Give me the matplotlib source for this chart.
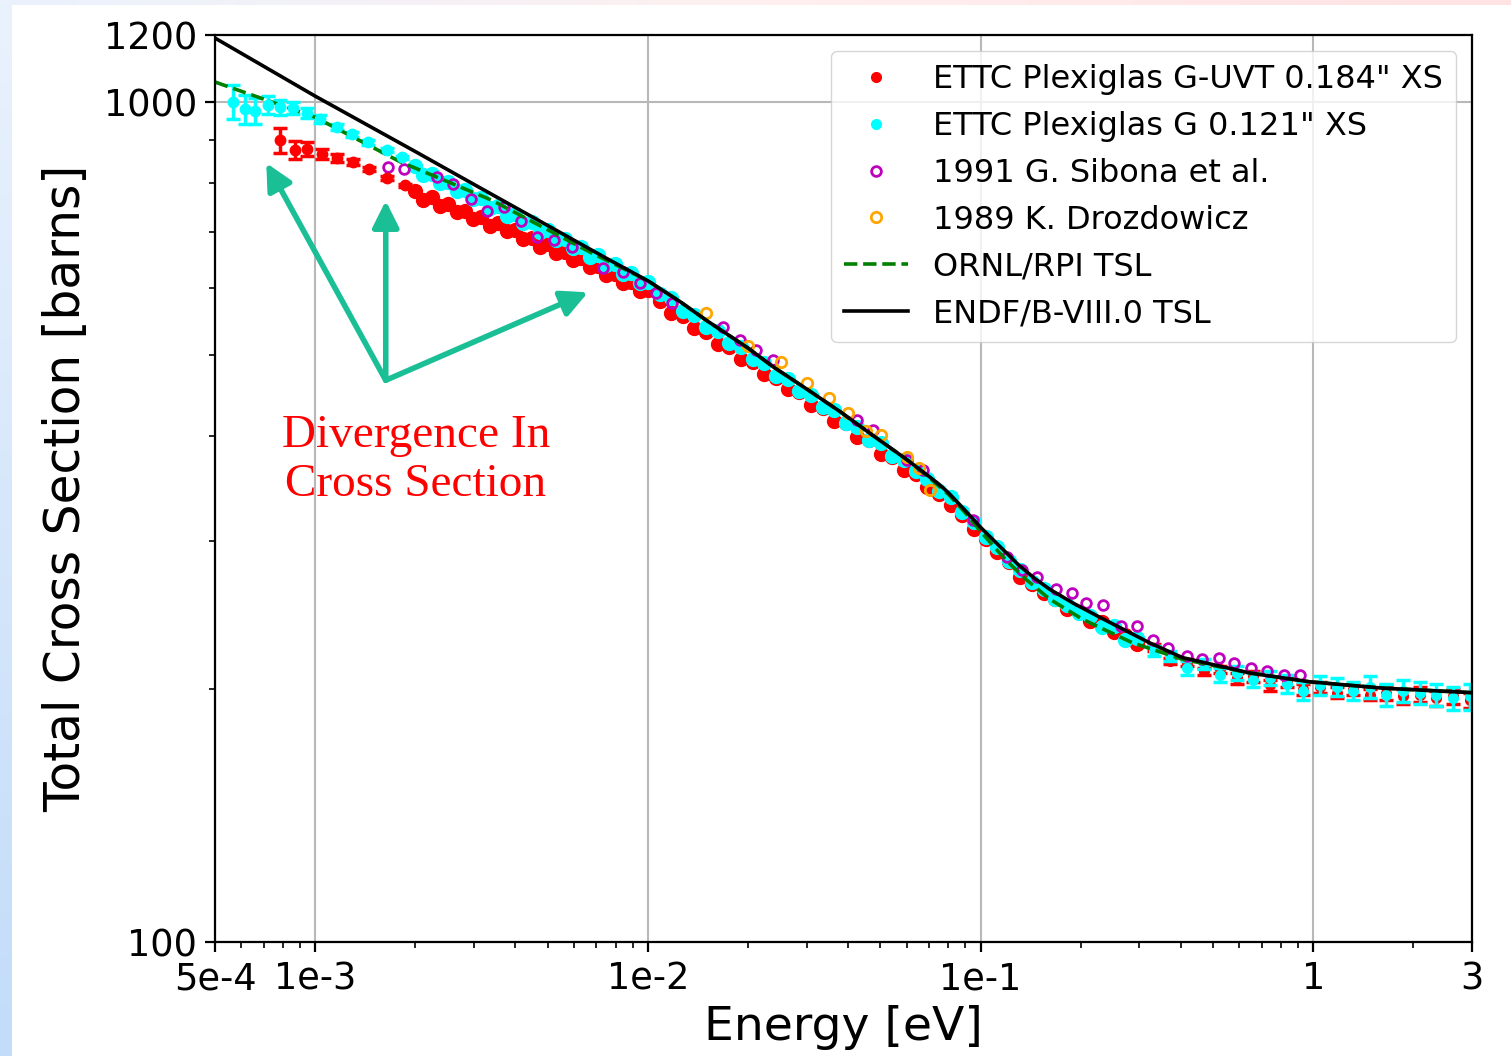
import matplotlib.pyplot as plt
import numpy as np
from matplotlib.colors import LinearSegmentedColormap
from matplotlib.ticker import NullFormatter

# Evaluated total cross sections (barns) vs energy (eV)
endf_E = [5e-4, 1e-3, 2e-3, 3e-3, 5e-3, 7.5e-3, 1e-2, 1.25e-2, 1.5e-2, 2e-2,
          2.37e-2, 3e-2, 3.77e-2, 4.73e-2, 6e-2, 7e-2, 7.5e-2, 8e-2, 8.5e-2, 9e-2,
          9.5e-2, 0.1, 0.11, 0.12, 0.13, 0.145, 0.161, 0.19, 0.228, 0.322,
          0.404, 0.643, 0.973, 1.61, 3.0]
endf_xs = [1190, 1015, 872, 797, 712, 651, 612, 578, 549, 509,
           484, 455, 428, 401, 375, 358, 350.5, 342.5, 334, 326,
           318.5, 311.5, 300, 290, 281, 271, 263, 253, 243.5, 227,
           218, 209, 204, 200.5, 198]

ornl_E = [5e-4, 1e-3, 1.8e-3, 3.4e-3, 6.7e-3, 1e-2, 1.25e-2, 1.5e-2, 2e-2, 2.37e-2,
          3e-2, 3.77e-2, 4.73e-2, 6e-2, 7e-2, 8e-2, 9e-2, 0.1, 0.11, 0.12,
          0.137, 0.161, 0.203, 0.286, 0.404, 0.643, 0.973, 1.61, 3.0]
ornl_xs = [1055, 958, 848, 763, 662, 612, 578, 549, 509, 484,
           455, 428, 401, 375, 357, 341, 324, 308, 295, 284,
           270, 256, 242, 227, 217, 209, 204, 200.5, 198]

# Older measurements
sibona_E = [1.66e-3, 1.85e-3, 2.32e-3, 2.60e-3, 2.94e-3, 3.28e-3, 3.70e-3, 4.15e-3, 4.64e-3, 5.22e-3,
            5.91e-3, 7.32e-3, 8.41e-3, 9.46e-3, 1.06e-2, 1.18e-2, 1.68e-2, 1.89e-2, 2.12e-2, 2.37e-2,
            4.24e-2, 4.74e-2, 6.00e-2, 6.70e-2, 9.46e-2, 0.120, 0.133, 0.148, 0.169, 0.188,
            0.208, 0.234, 0.265, 0.296, 0.329, 0.367, 0.416, 0.464, 0.522, 0.579,
            0.651, 0.728, 0.818, 0.914]
sibona_xs = [836, 831, 813, 797, 766, 741, 749, 721, 690, 684,
             671, 634, 627, 608, 592, 576, 539, 520, 506, 492,
             418, 407, 375, 364, 318, 287, 277, 272, 263, 260,
             253, 252, 238, 238, 229, 224, 219, 217, 218, 215,
             212, 210, 208, 208]

drozd_E = [1.50e-2, 1.995e-2, 2.51e-2, 3.00e-2, 3.50e-2, 3.99e-2, 4.52e-2, 5.01e-2, 6.00e-2, 6.51e-2, 7.03e-2]
drozd_xs = [560, 512, 490, 463, 444, 426, 406, 401, 378, 366, 345]

# ETTC transmission data: sparse low-energy points with larger uncertainty
red_low_E = [0.785e-3, 0.87e-3, 0.946e-3, 1.05e-3, 1.16e-3, 1.30e-3, 1.45e-3, 1.64e-3, 1.86e-3]
red_low_xs = [900, 876, 878, 866, 856, 847, 831, 811, 795]
red_low_err = [31, 21, 16, 12, 9, 7, 5, 4, 3]

cyan_low_E = [0.567e-3, 0.616e-3, 0.66e-3, 0.72e-3, 0.785e-3, 0.86e-3, 0.946e-3, 1.035e-3, 1.16e-3,
              1.29e-3, 1.44e-3, 1.64e-3, 1.82e-3]
cyan_low_xs = [999, 980, 975, 991, 985, 982, 969, 953, 933, 914, 894, 875, 858]
cyan_low_err = [46, 39, 35, 25, 20, 16, 13, 10, 8, 7, 6, 5, 4]

# ETTC dense energy grid shared by both samples (first 71 thermal, last 20 epithermal)
ettc_E = [0.00200, 0.00211, 0.00224, 0.00237, 0.00251, 0.00266, 0.00282, 0.00299, 0.00316, 0.00335,
          0.00355, 0.00376, 0.00398, 0.00422, 0.00447, 0.00473, 0.00501, 0.00531, 0.00562, 0.00596,
          0.00631, 0.00668, 0.00708, 0.00750, 0.00794, 0.00841, 0.00891, 0.00944, 0.0100,
          0.01084, 0.01175, 0.01274, 0.01380, 0.01496, 0.01622, 0.01758, 0.01905, 0.02065, 0.02239,
          0.02427, 0.02630, 0.02851, 0.03090, 0.03350, 0.03631, 0.03936, 0.04266, 0.04624, 0.05012,
          0.05433, 0.05888, 0.06383, 0.06918, 0.07499, 0.08128, 0.08810, 0.09550, 0.1035, 0.1122,
          0.1216, 0.1318, 0.1429, 0.1549, 0.1679, 0.1820, 0.1972, 0.2138, 0.2317, 0.2512,
          0.2723, 0.2951,
          0.331, 0.372, 0.417, 0.468, 0.525, 0.589, 0.661, 0.741, 0.832, 0.933,
          1.047, 1.175, 1.318, 1.479, 1.660, 1.862, 2.089, 2.344, 2.630, 2.951]
red_xs = [782, 764, 769, 751, 756, 739, 741, 725, 729, 712,
          716, 701, 703, 687, 689, 672, 676, 661, 663, 648,
          651, 635, 637, 622, 624, 609, 610, 595, 596,
          579, 561, 555, 537, 532, 515, 510, 494, 490, 474,
          469, 455, 451, 436, 432, 417, 414, 399, 396, 381,
          378, 364, 360, 348, 341, 331, 322, 310, 302, 291,
          283, 272, 267, 260, 256, 249, 247, 241, 240, 234,
          232, 226,
          224, 216, 215, 210, 211, 206, 207, 202, 204, 200,
          201, 198, 200, 197, 198, 196, 197, 195, 196, 194]
cyan_xs = [838, 818, 820, 799, 803, 782, 785, 765, 768, 748,
           751, 731, 735, 716, 718, 699, 703, 684, 687, 669,
           672, 654, 656, 639, 641, 624, 626, 608, 610,
           590, 583, 564, 557, 539, 533, 516, 510, 494, 488,
           472, 467, 452, 448, 433, 429, 414, 410, 396, 392,
           379, 375, 363, 356, 344, 338, 325, 316, 303, 295,
           284, 277, 268, 263, 256, 252, 246, 244, 237, 238,
           229, 230,
           222, 219, 212, 214, 208, 209, 205, 206, 203, 199,
           202, 201, 199, 201, 197, 199, 198, 197, 195, 196]
# uncertainties on the epithermal points
red_hi_err = [2, 2, 2, 2, 2, 3, 3, 3, 3, 3, 3, 3, 3, 3, 4, 4, 4, 4, 4, 4]
cyan_hi_err = [3, 3, 4, 3, 4, 4, 4, 4, 5, 5, 5, 5, 5, 6, 6, 6, 6, 6, 6, 7]

W, H = 1511, 1056
fig = plt.figure(figsize=(W / 100, H / 100), dpi=100)

# thin gradient border along the left and top edges
left = fig.add_axes([0, 0, 12 / W, 1], zorder=-5)
left.imshow(np.linspace(0, 1, 256).reshape(-1, 1), aspect='auto',
            cmap=LinearSegmentedColormap.from_list('edge_l', ['#eaf2fd', '#c2dcf9']))
left.axis('off')
top = fig.add_axes([0, 1 - 5 / H, 1, 5 / H], zorder=-5)
top.imshow(np.linspace(0, 1, 256).reshape(1, -1), aspect='auto',
           cmap=LinearSegmentedColormap.from_list('edge_t', ['#eaf2fd', '#fff0f0', '#ffe2e2']))
top.axis('off')

ax = fig.add_axes([215 / W, 1 - 942 / H, (1472 - 215) / W, (942 - 35) / H])
ax.set_xscale('log')
ax.set_yscale('log')

n_th = 71  # thermal part is densely binned
eb = dict(capsize=5, elinewidth=2.5, capthick=2.5)

ax.errorbar(red_low_E, red_low_xs, yerr=red_low_err, fmt='o', color='red', ms=7.5, **eb)
ax.plot(ettc_E[:n_th], red_xs[:n_th], 'o', color='red', ms=10)
ax.errorbar(ettc_E[n_th:], red_xs[n_th:], yerr=red_hi_err, fmt='none', ecolor='red', **eb)
ax.plot(ettc_E[n_th:], red_xs[n_th:], 'o', color='red', ms=7,
        label='ETTC Plexiglas G-UVT 0.184" XS')

ax.errorbar(cyan_low_E, cyan_low_xs, yerr=cyan_low_err, fmt='o', color='cyan', ms=7.5, **eb)
ax.plot(ettc_E[:n_th], cyan_xs[:n_th], 'o', color='cyan', ms=10)
ax.errorbar(ettc_E[n_th:], cyan_xs[n_th:], yerr=cyan_hi_err, fmt='none', ecolor='cyan', **eb)
ax.plot(ettc_E[n_th:], cyan_xs[n_th:], 'o', color='cyan', ms=7,
        label='ETTC Plexiglas G 0.121" XS')

ax.plot(sibona_E, sibona_xs, 'o', mfc='none', mec='m', mew=2, ms=7,
        label='1991 G. Sibona et al.')
ax.plot(drozd_E, drozd_xs, 'o', mfc='none', mec='orange', mew=2, ms=7.5,
        label='1989 K. Drozdowicz')
ax.plot(ornl_E, ornl_xs, '--', color='green', lw=2.6, label='ORNL/RPI TSL')
ax.plot(endf_E, endf_xs, '-', color='black', lw=2.6, label='ENDF/B-VIII.0 TSL')

ax.set_xlim(5e-4, 3)
ax.set_ylim(100, 1200)
ax.set_xticks([5e-4, 1e-3, 1e-2, 1e-1, 1, 3], labels=['5e-4', '1e-3', '1e-2', '1e-1', '1', '3'])
ax.set_yticks([100, 1000, 1200], labels=['100', '1000', '1200'])
ax.xaxis.set_minor_formatter(NullFormatter())
ax.yaxis.set_minor_formatter(NullFormatter())
ax.tick_params(which='major', length=7, width=1.6, labelsize=26.5, pad=6)
ax.tick_params(which='minor', length=4, width=1.2)
for s in ax.spines.values():
    s.set_linewidth(1.6)
ax.set_axisbelow(True)
ax.grid(True, which='major', color='#b8b8b8', lw=1.5)

ax.set_xlabel('Energy [eV]', fontsize=34, labelpad=6)
ax.set_ylabel('Total Cross Section [barns]', fontsize=35, labelpad=10)

ax.legend(loc='upper right', fontsize=23, numpoints=1, labelspacing=0.5)

# annotation: where the thick sample departs from the evaluations
ax.text(416 / W, 1 - 460 / H, 'Divergence In\nCross Section', transform=fig.transFigure,
        ha='center', va='center', color='red', fontsize=34, family='Liberation Serif',
        zorder=0.4)
tail = (1.63e-3, 466)
for tip in [(0.713e-3, 845), (1.63e-3, 762), (6.61e-3, 593)]:
    ax.annotate('', xy=tip, xytext=tail,
                arrowprops=dict(arrowstyle='-|>,head_length=0.8,head_width=0.4',
                                color='#1abf96', lw=4, shrinkA=0, shrinkB=0,
                                mutation_scale=20))

fig.savefig('out.png', dpi=100)
